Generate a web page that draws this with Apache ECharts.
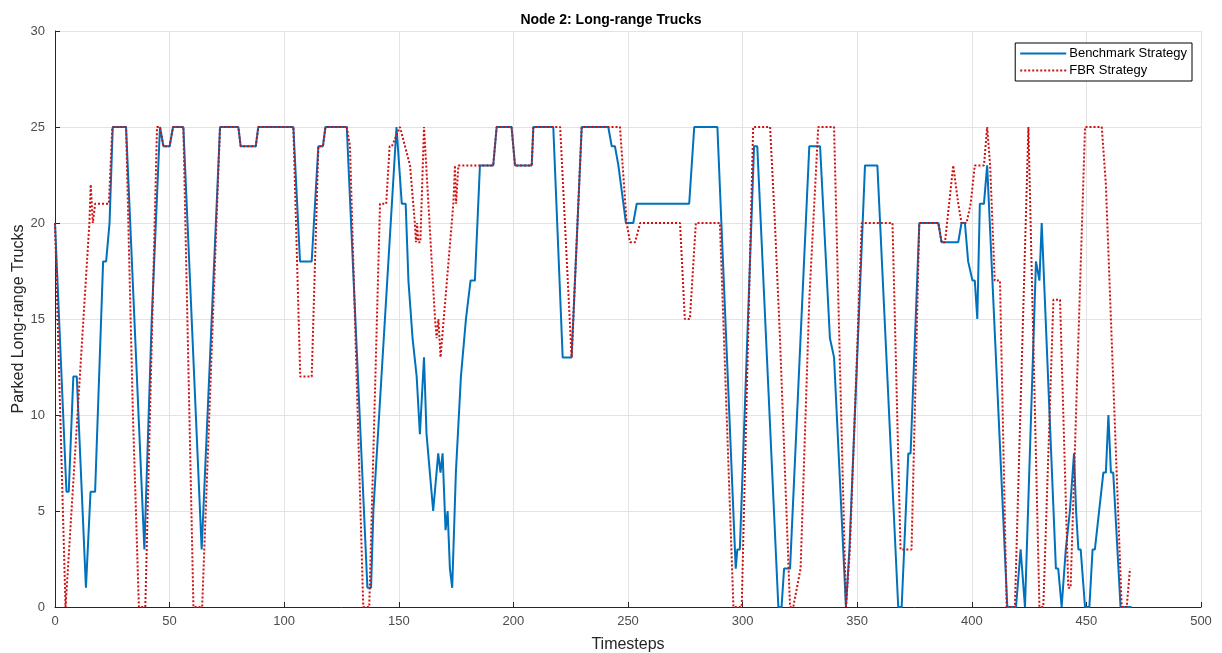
<!DOCTYPE html>
<html>
<head>
<meta charset="utf-8">
<script src="https://cdn.jsdelivr.net/npm/echarts@6/dist/echarts.min.js"></script>
<style>
html,body{margin:0;padding:0;background:#fff;}
#chart{width:1222px;height:653px;}
</style>
</head>
<body>
<div id="chart"></div>
<script>
const chartTitle = 'Node 2: Long-range Trucks';
const xLabel = 'Timesteps';
const yLabel = 'Parked Long-range Trucks';
const seriesNames = ['Benchmark Strategy', 'FBR Strategy'];
const xTicks = [0, 50, 100, 150, 200, 250, 300, 350, 400, 450, 500];
const yTicks = [0, 5, 10, 15, 20, 25, 30];

// [timestep, parked trucks] breakpoints
const benchmark = [
  [0,20],[5,6],[6,6],[8,12],[9.5,12],[13.5,1],[15.5,6],[17.5,6],[21,18],[22.3,18],[23.8,20],[25.2,25],
  [31,25],[39,3],[42.2,15],[45.8,25],[47.3,24],[50,24],[51.5,25],[56,25],[64,3],[72,25],[80,25],[81,24],
  [87.6,24],[88.7,25],[104,25],[106.9,18],[112,18],[114.9,24],[116.9,24],[118,25],[127.3,25],[136.3,1],
  [137.9,1],[138.9,5],[149,25],[151.3,21],[153,21],[154.2,17],[156,14],[157.8,12],[159.2,9],[161,13],
  [162.1,9],[165,5],[167.2,8],[168.2,7],[169.1,8],[170.4,4],[171.3,5],[172.3,2],[173.3,1],[174.9,7],
  [177.1,12],[179.3,15],[181.3,17],[183.2,17],[185.4,23],[191.2,23],[192.7,25],[199.2,25],[200.7,23],
  [208,23],[208.7,25],[217.4,25],[221.5,13],[225.4,13],[229.8,25],[241.4,25],[242.9,24],[244.3,24],
  [245.8,23],[246.5,23],[249.1,20],[252.3,20],[253.8,21],[276.7,21],[278.9,25],[289,25],[297,2],
  [297.7,3],[298.8,3],[305,24],[306.4,24],[315.6,0],[317,0],[318.1,2],[320.7,2],[329.1,24],[333.8,24],
  [338.1,14],[339.9,13],[345.1,0],[346.6,3],[347.2,3],[353.4,23],[358.8,23],[367.9,0],[369.4,0],
  [372.3,8],[373.3,8],[377.1,20],[385.4,20],[386.8,19],[394.1,19],[395.5,20],[397,20],[398.4,18],
  [400.3,17],[401.3,17],[402.4,15],[403.5,21],[405.3,21],[406.7,23],[415.5,0],[419.3,0],[421.3,3],
  [423.2,0],[428,18],[429.5,17],[430.5,20],[436.7,2],[437.7,2],[439.2,0],[441,3],[442.8,5],[443.5,5],
  [444.6,8],[445.5,5],[446.5,3],[447.5,3],[449.4,0],[451.3,0],[452.7,3],[453.7,3],[457.4,7],[458.5,7],
  [459.6,10],[460.7,7],[461.7,7],[464.9,0],[469.7,0]
];

const fbr = [
  [0,20],[4.6,0],[5.4,0],[15,20],[15.6,22],[16.5,20],[17.5,21],[23.5,21],[25,25],[31,25],[34,10],
  [36.6,0],[39.4,0],[44.5,25],[45.8,25],[47.3,24],[50,24],[51.5,25],[56,25],[60.4,0],[64.2,0],[72,25],
  [80,25],[81,24],[87.6,24],[88.7,25],[104,25],[107,12],[112,12],[114.9,24],[116.9,24],[118,25],
  [127.3,25],[128.7,24],[134.5,0],[137.1,0],[141.8,21],[144.5,21],[146,24],[147,24],[150.5,25],
  [151.2,25],[154.9,23],[157,20],[157.5,19],[158,20],[158.5,19],[159.4,19],[161,25],[161.4,25],
  [165.8,15],[166.5,14],[167.3,15],[168.2,13],[173.8,21],[174.5,23],[175,21],[176,23],[185.4,23],
  [191.2,23],[192.7,25],[199.2,25],[200.7,23],[208,23],[208.7,25],[220.4,25],[225.4,13],[229.8,25],
  [246.5,25],[249.4,20],[250.9,19],[253.1,19],[255.3,20],[272.7,20],[274.8,15],[277,15],[279.6,20],
  [290.1,20],[296,0],[299.6,0],[304.6,25],[312,25],[314.1,20],[316.3,14],[320.7,0],[322.1,0],
  [325.3,2],[329.1,16],[333,25],[339.9,25],[345.1,0],[346.8,3],[352,20],[365.4,20],[368.9,3],
  [373.7,3],[377.1,20],[385.4,20],[386.8,19],[388.3,19],[391.9,23],[394.1,21],[395.5,20],[397.7,20],
  [399.5,21],[401.3,23],[405.3,23],[406.7,25],[408,23],[410,17],[412.3,17],[415.2,0],[418.8,0],
  [424.7,25],[429.5,0],[431.2,0],[435.6,16],[438.5,16],[442.1,1],[443.1,1],[449.4,25],[456.7,25],
  [458.5,22],[459,22],[465.4,0],[467.6,0],[469,2]
];

const FONT = 'Liberation Sans, Arial, Helvetica, sans-serif';
const chart = echarts.init(document.getElementById('chart'), null, {renderer: 'canvas'});
chart.setOption({
  animation: false,
  backgroundColor: '#ffffff',
  title: {
    text: chartTitle,
    left: 'center',
    top: 8,
    textStyle: {fontFamily: FONT, fontSize: 14, fontWeight: 'bold', color: '#000'}
  },
  legend: {
    orient: 'vertical',
    right: 30,
    top: 43,
    padding: [4, 5, 4, 4],
    itemGap: 4,
    itemWidth: 46,
    itemHeight: 12,
    borderColor: '#000',
    borderWidth: 1,
    borderRadius: 0,
    backgroundColor: '#fff',
    itemStyle: {opacity: 0},
    textStyle: {fontFamily: FONT, fontSize: 13, color: '#000', padding: [0,0,0,-2]},
    data: seriesNames
  },
  grid: {left: 55, right: 21, top: 31, bottom: 46, containLabel: false, outerBoundsMode: 'none'},
  xAxis: {
    type: 'value',
    min: xTicks[0], max: xTicks[xTicks.length - 1], interval: 50,
    name: xLabel, nameLocation: 'middle', nameGap: 30, nameMoveOverlap: false,
    nameTextStyle: {fontFamily: FONT, fontSize: 16, color: '#262626'},
    axisLine: {show: true, onZero: false, lineStyle: {color: '#262626', width: 1}},
    axisTick: {show: true, inside: true, length: 5, lineStyle: {color: '#262626'}},
    axisLabel: {fontFamily: FONT, fontSize: 13, color: '#4d4d4d', margin: 8},
    splitLine: {show: true, lineStyle: {color: '#e3e3e3', width: 1}}
  },
  yAxis: {
    type: 'value',
    min: yTicks[0], max: yTicks[yTicks.length - 1], interval: 5,
    name: yLabel, nameLocation: 'middle', nameGap: 28, nameRotate: 90, nameMoveOverlap: false,
    nameTextStyle: {fontFamily: FONT, fontSize: 16, color: '#262626'},
    axisLine: {show: true, onZero: false, lineStyle: {color: '#262626', width: 1}},
    axisTick: {show: true, inside: true, length: 5, lineStyle: {color: '#262626'}},
    axisLabel: {fontFamily: FONT, fontSize: 13, color: '#4d4d4d', margin: 10},
    splitLine: {show: true, lineStyle: {color: '#e3e3e3', width: 1}}
  },
  series: [
    {
      name: seriesNames[0], type: 'line', data: benchmark,
      showSymbol: false, symbol: 'none',
      lineStyle: {color: '#0072BD', width: 2},
      itemStyle: {color: '#0072BD'},
      z: 2
    },
    {
      name: seriesNames[1], type: 'line', data: fbr,
      showSymbol: false, symbol: 'none',
      lineStyle: {color: '#d01010', width: 2, type: [2, 2]},
      itemStyle: {color: '#d01010'},
      z: 3
    }
  ]
});
</script>
</body>
</html>
